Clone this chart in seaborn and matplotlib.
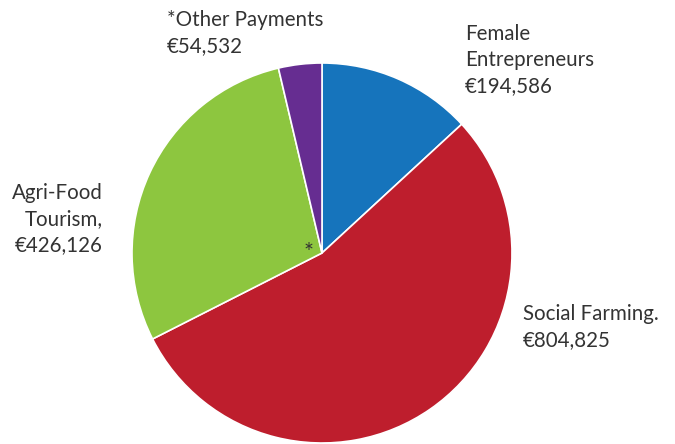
import matplotlib
matplotlib.use("Agg")
import matplotlib.pyplot as plt
import seaborn as sns

# data
labels = ["Female\nEntrepreneurs\n€194,586", "Social Farming.\n€804,825",
          "Agri-Food\nTourism,\n€426,126", "*Other Payments\n€54,532"]
values = [194586, 804825, 426126, 54532]
colors = ["#1674bc", "#be1e2d", "#8dc63f", "#662d91"]

sns.set_theme(style="white")
plt.rcParams["font.family"] = ["Lato", "DejaVu Sans"]

fig = plt.figure(figsize=(6.75, 4.44), dpi=100)
ax = fig.add_axes([0, 0, 1, 1])

ax.pie(values, colors=colors, startangle=90, counterclock=False,
       center=(322, 191), radius=190,
       wedgeprops=dict(edgecolor="white", linewidth=1.2))

# pie() resets the limits, so set them afterwards (pixel-like coords)
ax.set_xlim(0, 675)
ax.set_ylim(0, 444)
ax.set_aspect("equal")
ax.axis("off")

txt = dict(color="#333333", fontsize=14.8, linespacing=1.38, va="center")
ax.text(465, 444 - 60, labels[0], ha="left", **txt)
ax.text(523, 444 - 327, labels[1], ha="left", **txt)
ax.text(103, 444 - 219, labels[2], ha="right", **txt)
ax.text(167, 444 - 33, labels[3], ha="left", **txt)
ax.text(309, 444 - 252, "*", ha="center", color="#333333", fontsize=17, va="center")

fig.savefig("out.png", dpi=100)
